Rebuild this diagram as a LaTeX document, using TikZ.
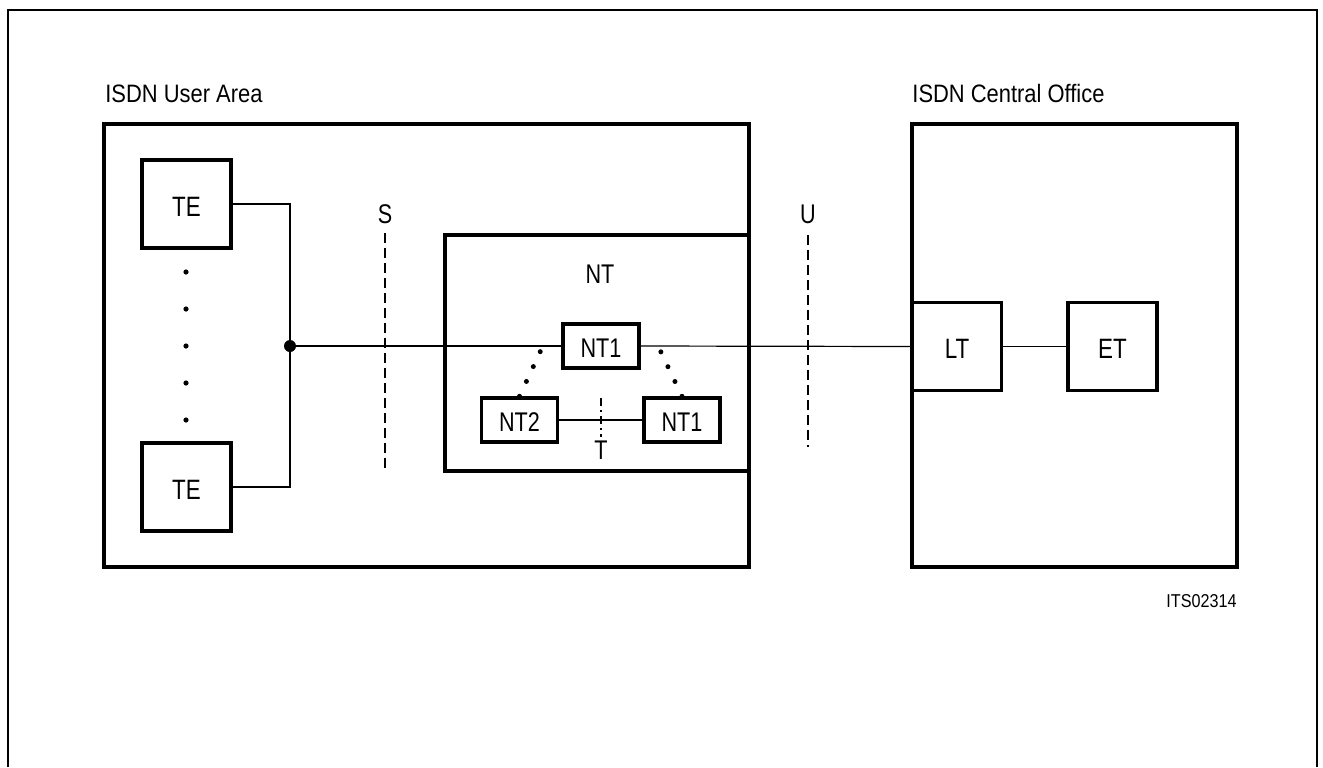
\documentclass[tikz,border=0pt]{standalone}
\usepackage{fontspec}
\setmainfont{Liberation Sans}
\newfontfamily\labelFont[FakeStretch=0.87]{Liberation Sans}
\newfontfamily\boxFont[FakeStretch=0.8]{Liberation Sans}
\usetikzlibrary{positioning}
\tikzset{
    unitBox/.style={draw, line width=1.7pt, minimum width=44.5pt, minimum height=44pt,
        inner sep=0pt, text height=12pt, font=\boxFont\fontsize{14}{16}\selectfont},
    smallBox/.style={draw, line width=1.7pt, minimum width=38pt, minimum height=22pt,
        inner sep=0pt, text height=11.5pt, font=\boxFont\fontsize{13.5}{15}\selectfont},
    areaLabel/.style={anchor=base west, inner sep=0pt, font=\labelFont\fontsize{12.6}{15}\selectfont},
    refLabel/.style={anchor=base, inner sep=0pt, font=\boxFont\fontsize{13.5}{15}\selectfont},
    wire/.style={line width=0.6pt},
    refLine/.style={line width=0.6pt, dash pattern=on 5pt off 2.5pt},
    dotLink/.style={line width=2.5pt, line cap=round, dash pattern=on 0pt off 8.2pt}
}
\begin{document}
\begin{tikzpicture}[x=0.5pt, y=-0.5pt]
	\useasboundingbox (0,0) rectangle (1323,767);
	% outer frame
	\draw[line width=0.8pt] (8,767) -- (8,10) -- (1317,10) -- (1317,767);
	% areas
	\draw[line width=1.7pt] (104,124) rectangle (749,567);
	\draw[line width=1.7pt] (912,124) rectangle (1237,567);
	\draw[line width=1.7pt] (749,235) -- (445,235) -- (445,471) -- (749,471);
	\node[areaLabel] (userLabel) at (105,102) {ISDN User Area};
	\node[areaLabel] (officeLabel) at (912,102) {ISDN Central Office};
	\node[refLabel] (ntLabel) at (600,283) {NT};
	% terminals
	\node[unitBox] (te1) at (186.5,204) {TE};
	\node[unitBox] (te2) at (186.5,487) {TE};
	\foreach \y in {272,309,346,383,420}
		\fill (186,\y) circle (1.3pt);
	\coordinate (junction) at (290,346);
	% network termination
	\node[smallBox] (nt1a) at (601,346) {NT1};
	\node[smallBox] (nt2) at (519.5,420) {NT2};
	\node[smallBox] (nt1b) at (682,420) {NT1};
	\coordinate (dotL) at (541,350);
	\coordinate (dotR) at (660,350);
	% central office
	\node[unitBox] (lt) at (957,346.5) {LT};
	\node[unitBox] (et) at (1112.5,346.5) {ET};
	% wiring
	\draw[wire] (te1.east) -| (junction);
	\draw[wire] (te2.east) -| (junction);
	\fill (junction) circle (3pt);
	\draw[wire] (junction) -- (nt1a.west);
	\draw[wire] (nt1a.east) -- (lt.west);
	\draw[wire] (lt) -- (et);
	\draw[wire] (nt2) -- (nt1b);
	\draw[dotLink] (nt2.north) -- (dotL);
	\draw[dotLink] (nt1b.north) -- (dotR);
	% reference points
	\node[refLabel] (sLabel) at (385,223) {S};
	\node[refLabel] (uLabel) at (808,223) {U};
	\node[refLabel] (tLabel) at (601,459) {T};
	\draw[refLine] (385,233) -- (385,470);
	\draw[refLine] (808,235) -- (808,447);
	\draw[line width=0.6pt, dash pattern=on 4pt off 2pt on 1pt off 2pt] (601,398) -- (601,437);
	\node[anchor=base east, inner sep=0pt, font=\labelFont\fontsize{9.3}{11}\selectfont] (figId) at (1237,607) {ITS02314};
\end{tikzpicture}
\end{document}
